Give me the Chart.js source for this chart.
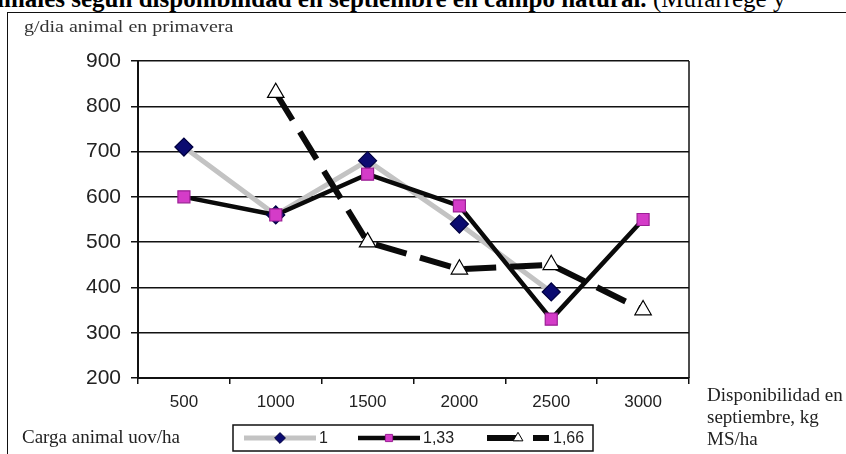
<!DOCTYPE html>
<html lang="es">
<head>
<meta charset="utf-8">
<title>Ganancia diaria en primavera según disponibilidad de forraje</title>
<script src="https://cdn.jsdelivr.net/npm/chart.js@4.4.1/dist/chart.umd.min.js"></script>
<style>
  html, body { margin: 0; padding: 0; background: #fff; }
  #wrap { position: relative; width: 846px; height: 454px; overflow: hidden; }
  #frame { position: absolute; left: 7px; top: 12px; width: 860px; height: 460px;
           border-left: 1.5px solid #111; border-top: 1.5px solid #111; }
  #chart { position: absolute; left: 0; top: 0; }
  .t { position: absolute; white-space: nowrap; color: #222; line-height: 1;
       font-family: 'Liberation Serif', 'Times New Roman', serif; transform-origin: 0 0; }
  #caption { position: absolute; white-space: nowrap; left: -3px; top: -14px; font-size: 25px; line-height: 25px;
             color: #000; font-family: 'Liberation Serif', 'Times New Roman', serif; }
  #caption b { font-weight: bold; }
  #ytitle { left: 24px; top: 19px; font-size: 16px; transform: scaleX(1.25); color: #333; }
  #carga { left: 22px; top: 427px; font-size: 19px; }
  #xtitle { left: 707px; top: 384px; font-size: 19px; line-height: 22px; }
</style>
</head>
<body>
<div id="wrap">
  <div id="caption"><b>imales según disponibilidad en septiembre en campo natural.</b> (Mufarrege y</div>
  <div id="frame"></div>
  <canvas id="chart" width="846" height="454"></canvas>
  <div class="t" id="ytitle">g/dia animal en primavera</div>
  <div class="t" id="carga">Carga animal uov/ha</div>
  <div class="t" id="xtitle">Disponibilidad en<br>septiembre, kg<br>MS/ha</div>
</div>
<script>
// Disponibilidad de forraje en septiembre (kg MS/ha)
const categories = ['500', '1000', '1500', '2000', '2500', '3000'];
// Ganancia en primavera (g/día animal) por carga animal (uov/ha)
const carga1   = [710, 560, 680, 540, 390, null];
const carga133 = [600, 560, 650, 580, 330, 550];
const carga166 = [null, 830, 500, 440, 450, 350];
const cargaLabels = ['1', '1,33', '1,66'];
const yMin = 200, yMax = 900, yStep = 100;

const series = [carga1, carga133, carga166];
const looks = [
  { line: '#c3c3c3', width: 5,   dash: [],       point: 'rectRot',  radius: 9,   fill: '#0b0b70', edge: '#000040' },
  { line: '#0a0a0a', width: 4.5, dash: [],       point: 'rect',     radius: 8.5, fill: '#d43cc8', edge: '#9a1f94' },
  { line: '#0a0a0a', width: 6,   dash: [32, 14], point: 'triangle', radius: 9.5, fill: '#ffffff', edge: '#000000' }
];

// Lines are drawn underneath, markers on top (lower order = drawn later).
const datasets = [];
series.forEach((data, i) => {
  const lk = looks[i];
  datasets.push({
    label: cargaLabels[i], data,
    borderColor: lk.line, borderWidth: lk.width, borderDash: lk.dash,
    borderCapStyle: 'butt', borderJoinStyle: 'round',
    pointRadius: 0, pointHoverRadius: 0, tension: 0, spanGaps: false, fill: false,
    order: 12 - i
  });
});
series.forEach((data, i) => {
  const lk = looks[i];
  datasets.push({
    label: cargaLabels[i] + ' marcador', data, showLine: false,
    pointStyle: lk.point, pointRadius: lk.radius, pointHoverRadius: lk.radius,
    pointBackgroundColor: lk.fill, pointBorderColor: lk.edge, pointBorderWidth: 1.2,
    order: 2 - i
  });
});

const FONT = "'Liberation Sans', Arial, sans-serif";

const frameAndLegend = {
  id: 'frameAndLegend',
  afterDraw(chart) {
    const { ctx, chartArea: a } = chart;
    ctx.save();
    // right edge of the plot area
    ctx.strokeStyle = '#111';
    ctx.lineWidth = 1.5;
    ctx.beginPath();
    ctx.moveTo(a.right, a.top);
    ctx.lineTo(a.right, a.bottom);
    ctx.stroke();

    // legend box
    const bx = 233, by = 425, bw = 360, bh = 26;
    ctx.lineWidth = 1.5;
    ctx.strokeStyle = '#111';
    ctx.strokeRect(bx, by, bw, bh);
    const cy = by + bh / 2;
    const items = [{ x0: 244, x1: 316, tx: 319 }, { x0: 358, x1: 420, tx: 423 }, { x0: 487, x1: 549, tx: 553 }];
    items.forEach((it, i) => {
      const line = chart.data.datasets[i];
      const mk = chart.data.datasets[i + 3];
      ctx.save();
      ctx.strokeStyle = line.borderColor;
      ctx.lineWidth = line.borderWidth;
      ctx.setLineDash(line.borderDash);
      ctx.beginPath();
      ctx.moveTo(it.x0, cy);
      ctx.lineTo(it.x1, cy);
      ctx.stroke();
      ctx.restore();
      ctx.fillStyle = mk.pointBackgroundColor;
      ctx.strokeStyle = mk.pointBorderColor;
      ctx.lineWidth = 1;
      Chart.helpers.drawPoint(ctx, { pointStyle: mk.pointStyle, radius: mk.pointRadius * 0.6, rotation: 0, borderWidth: 1 },
        (it.x0 + it.x1) / 2, cy);
      ctx.fillStyle = '#222';
      ctx.font = '16px ' + FONT;
      ctx.textBaseline = 'middle';
      ctx.textAlign = 'left';
      ctx.fillText(line.label, it.tx, cy + 1);
    });
    ctx.restore();
  }
};

new Chart(document.getElementById('chart'), {
  type: 'line',
  data: { labels: categories, datasets },
  options: {
    responsive: false,
    animation: false,
    devicePixelRatio: 1,
    layout: { padding: { left: 0, right: 157, top: 61, bottom: 0 } },
    plugins: { legend: { display: false }, tooltip: { enabled: false } },
    scales: {
      x: {
        type: 'category',
        offset: true,
        grid: { offset: true, drawOnChartArea: false, drawTicks: true, tickLength: 6, color: '#111', lineWidth: 1.5 },
        border: { display: true, color: '#111', width: 2 },
        ticks: { color: '#222', font: { family: FONT, size: 17 }, padding: 8, maxRotation: 0 },
        afterFit(s) { s.height = 76; }
      },
      y: {
        min: yMin, max: yMax,
        grid: { color: '#111', lineWidth: 1.5, tickLength: 7, drawTicks: true },
        border: { display: true, color: '#111', width: 2 },
        ticks: { stepSize: yStep, color: '#222', font: { family: FONT, size: 21 }, padding: 10 },
        afterFit(s) { s.width = 138; }
      }
    }
  },
  plugins: [frameAndLegend]
});
</script>
</body>
</html>
